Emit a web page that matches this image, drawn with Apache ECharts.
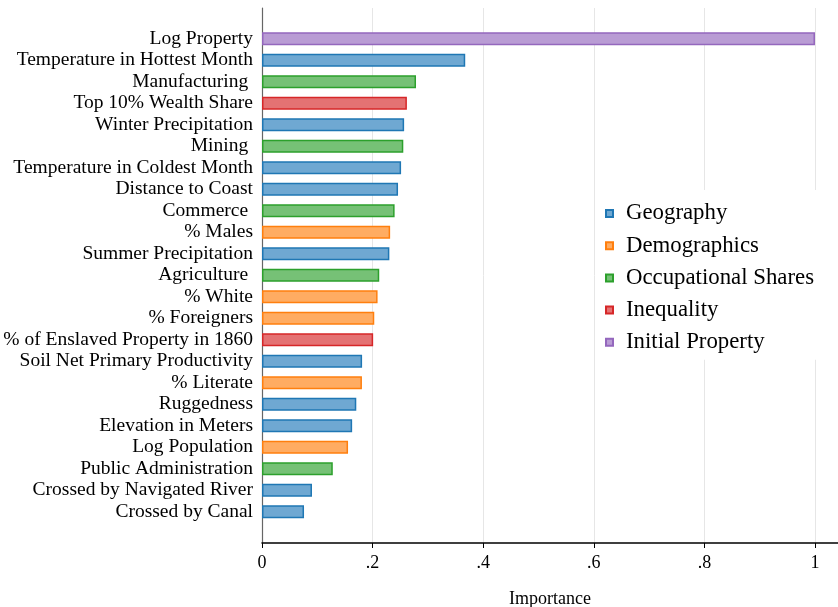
<!DOCTYPE html>
<html><head><meta charset="utf-8">
<script src="https://cdn.jsdelivr.net/npm/echarts@6/dist/echarts.min.js"></script>
<style>html,body{margin:0;padding:0;background:#fff}#c{width:838px;height:607px}</style>
</head><body><div id="c"></div>
<script>
const categories = ["Log Property","Temperature in Hottest Month","Manufacturing ","Top 10% Wealth Share","Winter Precipitation","Mining ","Temperature in Coldest Month","Distance to Coast","Commerce ","% Males","Summer Precipitation","Agriculture ","% White","% Foreigners","% of Enslaved Property in 1860","Soil Net Primary Productivity","% Literate","Ruggedness","Elevation in Meters","Log Population","Public Administration","Crossed by Navigated River","Crossed by Canal"];
const values = [1.0,0.3675,0.2785,0.262,0.257,0.2555,0.2515,0.246,0.2398,0.2317,0.2303,0.212,0.209,0.203,0.201,0.181,0.1807,0.1705,0.163,0.1556,0.128,0.0904,0.076];
const groups = ["Initial Property","Geography","Occupational Shares","Inequality","Geography","Occupational Shares","Geography","Geography","Occupational Shares","Demographics","Geography","Occupational Shares","Demographics","Demographics","Inequality","Geography","Demographics","Geography","Geography","Demographics","Occupational Shares","Geography","Geography"];
const groupNames = ["Geography","Demographics","Occupational Shares","Inequality","Initial Property"];
const xTicks = [0,0.2,0.4,0.6,0.8,1];

const lineColors = {"Geography":"#1f77b4","Demographics":"#ff7f0e","Occupational Shares":"#2ca02c","Inequality":"#d62728","Initial Property":"#9467bd"};
const fillColors = {"Geography":"#6fa8d2","Demographics":"#ffac62","Occupational Shares":"#76c176","Inequality":"#e47273","Initial Property":"#b99cd4"};
const serif = "Liberation Serif";

const series = groupNames.map(g => ({
  name: g, type: 'bar', stack: 'all', xAxisIndex: 1, yAxisIndex: 1,
  barWidth: 13,
  itemStyle: {color: fillColors[g], borderColor: lineColors[g], borderWidth: 1.5},
  data: categories.map((c, i) => groups[i] === g ? values[i] : null)
}));

const chart = echarts.init(document.getElementById('c'), null, {renderer: 'canvas'});
chart.setOption({
  animation: false,
  backgroundColor: '#fff',
  textStyle: {fontFamily: serif},
  grid: [
    {left: 262, right: 0, top: 8, bottom: 64, containLabel: false, outerBoundsMode: 'none'},
    {left: 262, right: 0, top: 28, bottom: 84.5, containLabel: false, outerBoundsMode: 'none'}
  ],
  xAxis: [
    {gridIndex: 0, type: 'value', min: 0, max: 1.0416, interval: 0.2,
     name: 'Importance', nameLocation: 'middle', nameGap: 47,
     nameTextStyle: {fontFamily: serif, fontSize: 18, color: '#000'},
     axisLine: {show: true, lineStyle: {color: '#000', width: 1.5}},
     axisTick: {show: true, length: 5, lineStyle: {color: '#000'}},
     axisLabel: {fontFamily: serif, fontSize: 18, color: '#000', margin: 11,
       formatter: v => { const m = xTicks.find(t => Math.abs(t - v) < 1e-6); if (m === undefined) return ''; if (m === 0) return '0'; if (m === 1) return '1'; return String(m).replace(/^0/, ''); }},
     splitLine: {show: true, lineStyle: {color: '#e6e6e6', width: 1}}},
    {gridIndex: 1, type: 'value', min: 0, max: 1.0416, show: false}
  ],
  yAxis: [
    {gridIndex: 0, type: 'value', min: 0, max: 1,
     axisLine: {show: true, lineStyle: {color: '#666', width: 1.2}},
     axisTick: {show: false}, axisLabel: {show: false}, splitLine: {show: false}},
    {gridIndex: 1, type: 'category', inverse: true, data: categories,
     axisLine: {show: false}, axisTick: {show: false},
     axisLabel: {interval: 0, fontFamily: serif, fontSize: 19.5, color: '#000', margin: 9}}
  ],
  legend: {
    orient: 'vertical', left: 597, top: 190,
    data: groupNames,
    backgroundColor: '#fff',
    padding: [12, 22, 6, 8],
    itemWidth: 7, itemHeight: 7, itemGap: 9.2,
    icon: 'rect',
    textStyle: {fontFamily: serif, fontSize: 22.8, color: '#000', padding: [0, 0, 0, 8]}
  },
  series: series
});
</script></body></html>
